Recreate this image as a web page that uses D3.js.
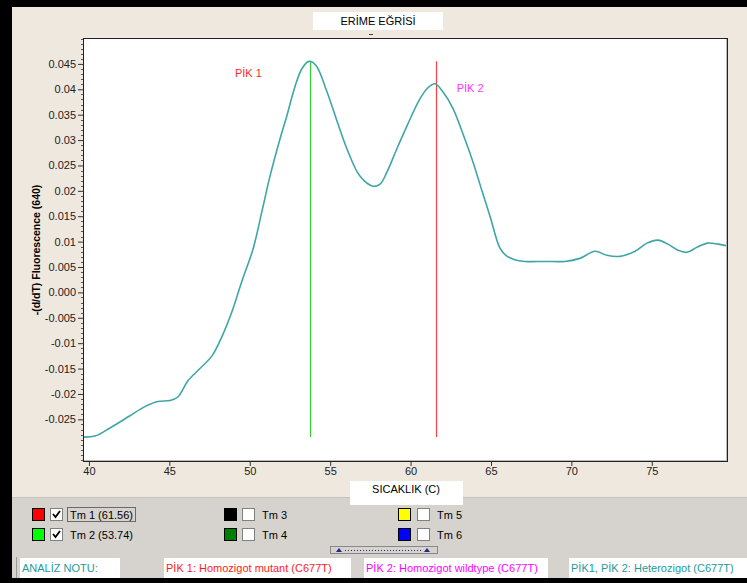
<!DOCTYPE html>
<html><head><meta charset="utf-8">
<script src="https://cdn.jsdelivr.net/npm/d3@7"></script>
<style>
body{margin:0;background:#fff}
svg{display:block}
text{font-family:"Liberation Sans",Arial,sans-serif}
</style>
</head><body>
<svg id="c" width="747" height="583"></svg>
<script>
// ---- data ----
const temps = [39.63,40.37,41.31,42.55,43.48,44.29,45.04,45.53,46.16,46.9,47.65,48.27,48.89,49.51,50.2,50.76,51.26,51.88,52.31,52.81,53.25,53.68,54.12,54.8,55.42,56.04,56.85,57.66,58.1,58.53,59.15,59.78,60.58,61.08,61.52,62.01,62.64,63.26,63.88,64.44,64.94,65.56,65.93,66.43,67.11,68.36,69.6,70.53,71.47,72.21,73.02,73.96,74.7,75.39,76.0,76.63,77.19,77.81,78.49,79.12,79.74];
const values = [-0.0285,-0.0283,-0.0267,-0.0243,-0.0225,-0.0215,-0.0213,-0.0206,-0.0174,-0.0150,-0.0125,-0.0087,-0.0038,0.0022,0.0085,0.0160,0.0229,0.0302,0.0348,0.0405,0.0441,0.0455,0.0447,0.0395,0.0338,0.0283,0.0229,0.0209,0.0213,0.0237,0.0283,0.0328,0.0381,0.0403,0.0411,0.0395,0.0362,0.0312,0.0257,0.0200,0.0150,0.0087,0.0073,0.0065,0.0061,0.0061,0.0061,0.0067,0.0081,0.0073,0.0071,0.0081,0.0097,0.0103,0.0095,0.0083,0.0079,0.0089,0.0097,0.0095,0.0091];
const xTicks = [40,45,50,55,60,65,70,75];
const yTicks = [0.045,0.04,0.035,0.03,0.025,0.02,0.015,0.01,0.005,0,-0.005,-0.01,-0.015,-0.02,-0.025];
const yTickLabels = ["0.045","0.04","0.035","0.03","0.025","0.02","0.015","0.01","0.005","0.000","-0.005","-0.01","-0.015","-0.02","-0.025"];
const peakTm = [53.74, 61.56];
const peakLabels = ["PİK 1","PİK 2"];
const legendNames = ["Tm 1 (61.56)","Tm 2 (53.74)","Tm 3","Tm 4","Tm 5","Tm 6"];
const legendColors = ["#ff0000","#00ff00","#000000","#008000","#ffff00","#0000ff"];
const legendChecked = [true,true,false,false,false,false];
const noteTexts = ["ANALİZ NOTU:","PİK 1: Homozigot mutant (C677T)","PİK 2: Homozigot wildtype (C677T)","PİK1, PİK 2: Heterozigot (C677T)"];
const noteColors = ["#1f9a9a","#ff1a1a","#ff00ff","#1f9a9a"];
const titleText = "ERİME EĞRİSİ";
const xLabel = "SICAKLIK (C)";
const yLabel = "-(d/dT) Fluorescence (640)";

// ---- drawing ----
const svg = d3.select("#c");
const W = 747, H = 583;
const L = 83, R = 728, T = 38, B = 462;

// backgrounds
svg.append("rect").attr("x",0).attr("y",0).attr("width",W).attr("height",H).attr("fill","#efe8df");
svg.append("rect").attr("x",0).attr("y",497).attr("width",W).attr("height",H-497).attr("fill","#d6d3ce");
svg.append("line").attr("x1",0).attr("x2",W).attr("y1",497.5).attr("y2",497.5).attr("stroke","#c8c4bc");
// black frame
svg.append("rect").attr("x",0).attr("y",0).attr("width",W).attr("height",7).attr("fill","#000");
svg.append("rect").attr("x",0).attr("y",0).attr("width",12).attr("height",H).attr("fill","#000");
svg.append("rect").attr("x",0).attr("y",578).attr("width",W).attr("height",5).attr("fill","#000");

// title
svg.append("rect").attr("x",313).attr("y",12).attr("width",130).attr("height",18).attr("fill","#fff");
svg.append("text").attr("x",378).attr("y",25).attr("text-anchor","middle").attr("font-size",11).attr("fill","#000").text(titleText);
svg.append("line").attr("x1",369).attr("x2",373).attr("y1",34.5).attr("y2",34.5).attr("stroke","#444");

// plot area
svg.append("rect").attr("x",L).attr("y",T).attr("width",R-L).attr("height",B-T).attr("fill","#fff");

const x = d3.scaleLinear().domain([39.63,79.74]).range([L,R]);
const y = d3.scaleLinear().domain([-0.0334,0.0501]).range([B,T]);

// y axis
const yAx = svg.append("g").attr("transform",`translate(${L},0)`)
  .call(d3.axisLeft(y).tickValues(yTicks).tickSize(5).tickPadding(2)
    .tickFormat((d,i)=>yTickLabels[i]));
yAx.select(".domain").remove();
yAx.selectAll("text").attr("font-size",11).attr("fill","#222").style("font-family","'Liberation Sans',Arial,sans-serif");
yAx.selectAll("line").attr("stroke","#333");
const yMinor = d3.range(-33,51).map(k=>k/1000).filter(v=>!yTicks.some(t=>Math.abs(t-v)<1e-9));
svg.append("g").selectAll("line").data(yMinor).join("line")
  .attr("x1",L-2).attr("x2",L).attr("y1",d=>Math.round(y(d))+0.5).attr("y2",d=>Math.round(y(d))+0.5).attr("stroke","#555");

// x axis
const xAx = svg.append("g").attr("transform",`translate(0,${B})`)
  .call(d3.axisBottom(x).tickValues(xTicks).tickSize(4).tickPadding(1).tickFormat(d3.format("d")));
xAx.select(".domain").remove();
xAx.selectAll("text").attr("font-size",11).attr("fill","#222").style("font-family","'Liberation Sans',Arial,sans-serif");
xAx.selectAll("line").attr("stroke","#333");

// x label box
svg.append("rect").attr("x",350).attr("y",481).attr("width",113).attr("height",24).attr("fill","#fff");
svg.append("text").attr("x",406).attr("y",493).attr("text-anchor","middle").attr("font-size",11).attr("fill","#000").text(xLabel);

// y label
svg.append("text").attr("transform","translate(40,250) rotate(-90)").attr("text-anchor","middle")
  .attr("font-size",10.5).attr("font-weight","bold").attr("fill","#000").text(yLabel);

// peak lines
const vMin = d3.min(values), vMax = d3.max(values);
const peakColors = ["#33cc33","#ff4040"];
svg.append("g").selectAll("line").data(peakTm).join("line")
  .attr("x1",d=>Math.round(x(d))+0.5).attr("x2",d=>Math.round(x(d))+0.5)
  .attr("y1",y(vMax)).attr("y2",y(vMin))
  .attr("stroke",(d,i)=>peakColors[i]).attr("stroke-width",1.2);

// curve
const line = d3.line().x((d,i)=>x(temps[i])).y(d=>y(d)).curve(d3.curveCatmullRom.alpha(0.5));
svg.append("path").datum(values).attr("d",line).attr("fill","none").attr("stroke","#3fa6a6").attr("stroke-width",1.6);

// peak labels
svg.append("text").attr("x",x(peakTm[0])-75).attr("y",y(vMax)+16).attr("font-size",11).attr("fill","#ff2a2a").text(peakLabels[0]);
svg.append("text").attr("x",x(peakTm[1])+21).attr("y",y(vMax)+31).attr("font-size",11).attr("fill","#ff33ff").text(peakLabels[1]);

// plot frame
svg.append("rect").attr("x",L+0.5).attr("y",T+0.5).attr("width",R-L-1).attr("height",B-T-1).attr("fill","none").attr("stroke","#222");
svg.append("line").attr("x1",R-1.5).attr("x2",R-1.5).attr("y1",T+1).attr("y2",B-1).attr("stroke","#bbb");
svg.append("line").attr("x1",L+1).attr("x2",R-1).attr("y1",B-1.5).attr("y2",B-1.5).attr("stroke","#bbb");

// legend
const colX = [32,224,398];
const rowY = [508,528];
legendNames.forEach((name,i)=>{
  const cx = colX[Math.floor(i/2)], cy = rowY[i%2];
  const g = svg.append("g");
  g.append("rect").attr("x",cx+0.5).attr("y",cy+0.5).attr("width",12).attr("height",12).attr("fill",legendColors[i]).attr("stroke","#000");
  const bx = cx + (i<4 ? 18 : 19);
  g.append("rect").attr("x",bx+0.5).attr("y",cy+0.5).attr("width",12).attr("height",12).attr("fill","#fff").attr("stroke","#808080");
  if(legendChecked[i]){
    g.append("path").attr("d",`M${bx+3},${cy+6} L${bx+5.5},${cy+9} L${bx+10},${cy+3}`).attr("fill","none").attr("stroke","#000").attr("stroke-width",1.8);
  }
  g.append("text").attr("x",bx+20).attr("y",cy+11).attr("font-size",11).attr("fill","#000").text(name);
  if(i===0){
    g.append("rect").attr("x",bx+17.5).attr("y",cy-0.5).attr("width",68).attr("height",14).attr("fill","none").attr("stroke","#000").attr("stroke-dasharray","1,1");
  }
});

// scroll control
svg.append("rect").attr("x",330.5).attr("y",546.5).attr("width",107).attr("height",7).attr("fill","#d6d3ce").attr("stroke","#888");
svg.append("line").attr("x1",345).attr("x2",422).attr("y1",550.5).attr("y2",550.5).attr("stroke","#1c2a8c").attr("stroke-dasharray","1,2");
[339,427].forEach(px=>{
  svg.append("path").attr("d",`M${px-3},${552} L${px+3},${552} L${px},${548} Z`).attr("fill","#1c2a8c");
});

// notes row
const noteX = [20,164,364,569];
const noteW = [100,187,184,178];
svg.append("line").attr("x1",16.5).attr("x2",16.5).attr("y1",557).attr("y2",578).attr("stroke","#999");
noteTexts.forEach((t,i)=>{
  svg.append("rect").attr("x",noteX[i]).attr("y",558).attr("width",noteW[i]).attr("height",20).attr("fill","#fff");
  svg.append("text").attr("x",noteX[i]+2).attr("y",572).attr("font-size",11).attr("fill",noteColors[i]).text(t);
});
</script>
</body></html>
